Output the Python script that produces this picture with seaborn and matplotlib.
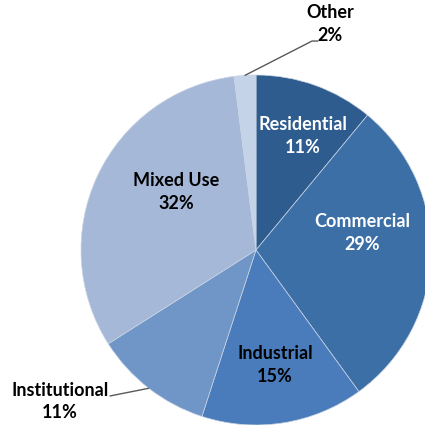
import numpy as np
import matplotlib
matplotlib.use("Agg")
import matplotlib.pyplot as plt
import seaborn as sns

categories = ["Residential", "Commercial", "Industrial", "Institutional", "Mixed Use", "Other"]
values = [11, 29, 15, 11, 32, 2]
pct_labels = ["11%", "29%", "15%", "11%", "32%", "2%"]

colors = ["#2F5C8E", "#3B6FA6", "#4A7CBC", "#7096C8", "#A5B8D7", "#C5D3E8"]
text_colors = ["white", "white", "black", "black", "black", "black"]
# label anchor positions (layout, data units where pie radius = 1)
label_pos = [(0.269, 0.651), (0.606, 0.097), (0.109, -0.657), (-1.12, -0.865), (-0.457, 0.331), (0.423, 1.29)]
outside = [False, False, False, True, False, True]

sns.set_theme(style="white")
plt.rcParams["font.family"] = ["Lato", "DejaVu Sans"]

fig = plt.figure(figsize=(4.25, 4.25), dpi=100)
ax = fig.add_axes([0, 0, 1, 1])
pal = sns.color_palette(colors)
wedges, _ = ax.pie(values, colors=pal, startangle=90, counterclock=False, radius=1,
                   wedgeprops=dict(edgecolor="#C9D4E4", linewidth=0.5))

ax.set_xlim(-256 / 175, (425 - 256) / 175)
ax.set_ylim(-(425 - 250) / 175, 250 / 175)
ax.set_aspect("equal")
ax.axis("off")

for i, w in enumerate(wedges):
    x, y = label_pos[i]
    ax.text(x, y, f"{categories[i]}\n{pct_labels[i]}", ha="center", va="center",
            fontsize=13, fontweight="bold", color=text_colors[i], linespacing=1.4)
    if outside[i]:
        mid = np.deg2rad((w.theta1 + w.theta2) / 2)
        ex, ey = np.cos(mid), np.sin(mid)
        if categories[i] == "Other":
            xs = [ex, 0.32, 0.354]
            ys = [ey, 1.194, 1.194]
        else:
            xs = [ex, -0.834]
            ys = [ey, -0.834]
        ax.plot(xs, ys, color="#595959", lw=1.0)

fig.savefig("out.png", dpi=100)
